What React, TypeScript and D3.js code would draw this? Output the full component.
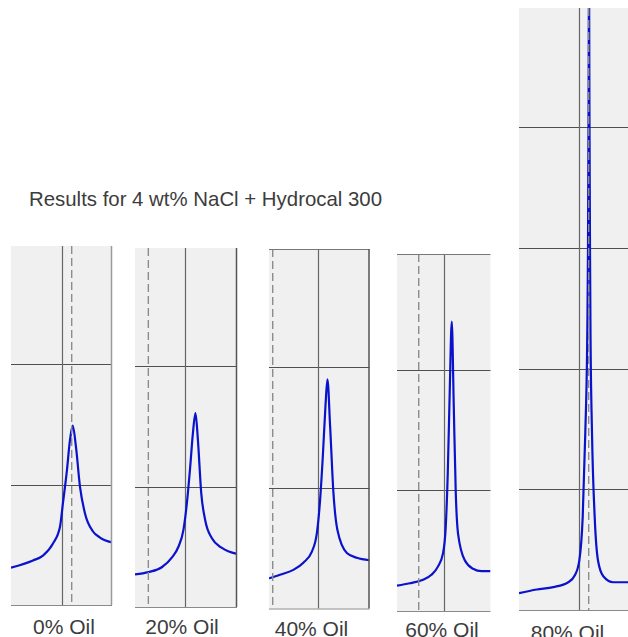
import React from "react";
import * as d3 from "d3";

// chart text
const title = "Results for 4 wt% NaCl + Hydrocal 300";
const panelLabels = ["0% Oil", "20% Oil", "40% Oil", "60% Oil", "80% Oil"];

// spectra: x = offset from reference line, y = response (grid units)
const oil0X = [-5.07, -2.87, -1.87, -0.87, -0.17, 0.13, 0.5, 0.83, 1.1, 1.43, 1.83, 2.33, 3.13, 3.83, 5.03];
const oil0Y = [0.31, 0.37, 0.41, 0.51, 0.65, 0.85, 1.1, 1.37, 1.49, 1.31, 0.98, 0.76, 0.61, 0.56, 0.52];

const oil20X = [-5.03, -3.7, -2.36, -1.36, -0.7, -0.2, 0.14, 0.47, 0.74, 1.0, 1.24, 1.57, 1.97, 2.64, 3.64, 5.14];
const oil20Y = [0.27, 0.29, 0.33, 0.41, 0.5, 0.64, 0.86, 1.16, 1.44, 1.61, 1.39, 0.95, 0.72, 0.57, 0.49, 0.44];

const oil40X = [-4.93, -3.83, -2.5, -1.5, -0.66, -0.16, 0.17, 0.44, 0.7, 0.9, 1.17, 1.5, 1.9, 2.84, 3.84, 5.1];
const oil40Y = [0.25, 0.28, 0.32, 0.38, 0.47, 0.62, 0.9, 1.26, 1.67, 1.9, 1.51, 0.96, 0.65, 0.46, 0.42, 0.4];

const oil60X = [-4.67, -3.4, -2.07, -1.23, -0.57, -0.07, 0.2, 0.4, 0.6, 0.8, 1.0, 1.2, 1.43, 2.1, 2.93, 3.77, 4.67];
const oil60Y = [0.21, 0.23, 0.26, 0.3, 0.37, 0.48, 0.7, 1.14, 1.83, 2.4, 1.7, 0.98, 0.64, 0.42, 0.35, 0.33, 0.33];

const oil80X = [-6.0, -4.23, -2.57, -1.07, -0.4, 0.03, 0.37, 0.63, 0.83, 0.9, 0.96, 1.0, 1.04, 1.1, 1.15, 1.3, 1.57, 1.9, 2.43, 3.43, 4.9];
const oil80Y = [0.14, 0.17, 0.19, 0.23, 0.29, 0.41, 0.77, 1.47, 2.3, 2.99, 4.23, 5.39, 4.23, 2.99, 2.3, 1.47, 0.77, 0.41, 0.28, 0.23, 0.23];

const seriesX = [oil0X, oil20X, oil40X, oil60X, oil80X];
const seriesY = [oil0Y, oil20Y, oil40Y, oil60Y, oil80Y];

// visible ranges and marker positions
const xDomains = [[-5.07, 5.03], [-5.03, 5.14], [-4.93, 5.1], [-4.67, 4.67], [-6.0, 4.9]];
const yMax = [2.98, 2.98, 2.98, 2.96, 4.99];
const dashedAt = [1.0, -3.7, -4.56, -2.5, 0.97];

// panel placement in the page (px)
const layout = [
  { left: 11, right: 112, top: 246, bottom: 605, labelX: 64, labelY: 634, topLine: false, rightLine: "#9a9a9a" },
  { left: 135, right: 237, top: 248, bottom: 607, labelX: 182, labelY: 634, topLine: false, rightLine: "#555" },
  { left: 269, right: 369.5, top: 249, bottom: 608.5, labelX: 311.5, labelY: 635.5, topLine: true, rightLine: "#555" },
  { left: 397, right: 490.5, top: 254, bottom: 611, labelX: 442, labelY: 637, topLine: true, rightLine: null },
  { left: 519, right: 628, top: 8, bottom: 610, labelX: 567.5, labelY: 640, topLine: false, rightLine: null },
];

const Panel = ({ i }: { i: number }) => {
  const L = layout[i];
  const x = d3.scaleLinear().domain(xDomains[i]).range([L.left, L.right]);
  const y = d3.scaleLinear().domain([0, yMax[i]]).range([L.bottom, L.top]);
  const pts = seriesX[i].map((d, k) => [d, seriesY[i][k]] as [number, number]);
  const line = d3
    .line<[number, number]>()
    .x((d) => x(d[0]))
    .y((d) => y(d[1]))
    .curve(d3.curveMonotoneX);
  const yTicks = d3.range(1, Math.floor(yMax[i] + 0.02) + 1).filter((t) => t < yMax[i]);
  const clipId = `clip-${i}`;

  return (
    <g>
      <defs>
        <clipPath id={clipId}>
          <rect x={L.left} y={L.top} width={L.right - L.left} height={L.bottom - L.top} />
        </clipPath>
      </defs>
      <rect x={L.left} y={L.top} width={L.right - L.left} height={L.bottom - L.top} fill="#f0f0f0" />
      {yTicks.map((t) => (
        <line key={t} x1={L.left} x2={L.right} y1={Math.round(y(t)) + 0.5} y2={Math.round(y(t)) + 0.5} stroke="#505050" strokeWidth={1} />
      ))}
      <line x1={Math.round(x(0)) + 0.5} x2={Math.round(x(0)) + 0.5} y1={L.top} y2={L.bottom} stroke="#666" strokeWidth={1.2} />
      <path d={line(pts) || ""} fill="none" stroke="#0a12cc" strokeWidth={2.2} clipPath={`url(#${clipId})`} />
      <line x1={x(dashedAt[i])} x2={x(dashedAt[i])} y1={L.top} y2={L.bottom} stroke="#8c8c8c" strokeWidth={1.4} strokeDasharray="8,4" />
      <line x1={L.left} x2={L.right} y1={L.bottom + 0.5} y2={L.bottom + 0.5} stroke="#8a8a8a" strokeWidth={1} />
      {L.topLine && <line x1={L.left} x2={L.right} y1={L.top + 0.5} y2={L.top + 0.5} stroke="#777" strokeWidth={1.2} />}
      {L.rightLine && <line x1={L.right - 0.5} x2={L.right - 0.5} y1={L.top} y2={L.bottom} stroke={L.rightLine} strokeWidth={1.5} />}
      <text x={L.labelX} y={L.labelY} textAnchor="middle" fontSize={21} fill="#3c3c3c">
        {panelLabels[i]}
      </text>
    </g>
  );
};

export default function App() {
  return (
    <svg
      width={628}
      height={637}
      style={{ position: "absolute", left: 0, top: 0, background: "#fff", fontFamily: "Arial, 'Liberation Sans', sans-serif" }}
    >
      <text x={29} y={206} fontSize={20.4} fill="#3c3c3c">
        {title}
      </text>
      {panelLabels.map((_, i) => (
        <Panel key={i} i={i} />
      ))}
    </svg>
  );
}
